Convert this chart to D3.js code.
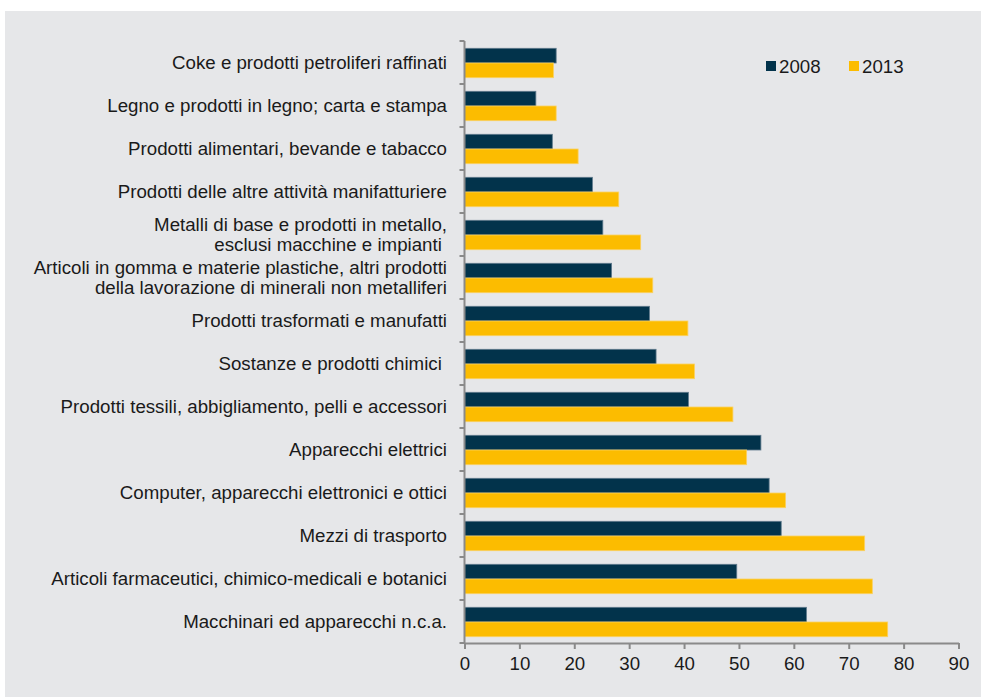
<!DOCTYPE html>
<html>
<head>
<meta charset="utf-8">
<script src="https://cdn.jsdelivr.net/npm/d3@7"></script>
<style>
  html, body { margin: 0; padding: 0; background: #ffffff; }
  svg { display: block; }
  text { font-family: "Liberation Sans", Arial, sans-serif; fill: #1a1a1a; }
</style>
</head>
<body>
<svg id="chart" width="981" height="697"></svg>
<script>
const categories = [
  "Coke e prodotti petroliferi raffinati",
  "Legno e prodotti in legno; carta e stampa",
  "Prodotti alimentari, bevande e tabacco",
  "Prodotti delle altre attività manifatturiere",
  "Metalli di base e prodotti in metallo,\nesclusi macchine e impianti ",
  "Articoli in gomma e materie plastiche, altri prodotti\ndella lavorazione di minerali non metalliferi",
  "Prodotti trasformati e manufatti",
  "Sostanze e prodotti chimici ",
  "Prodotti tessili, abbigliamento, pelli e accessori",
  "Apparecchi elettrici",
  "Computer, apparecchi elettronici e ottici",
  "Mezzi di trasporto",
  "Articoli farmaceutici, chimico-medicali e botanici",
  "Macchinari ed apparecchi n.c.a."
];
const seriesNames = ["2008", "2013"];
const values2008 = [16.7, 13.0, 16.0, 23.3, 25.2, 26.8, 33.7, 34.9, 40.8, 54.0, 55.5, 57.7, 49.6, 62.3];
const values2013 = [16.2, 16.7, 20.7, 28.1, 32.1, 34.3, 40.7, 41.9, 48.9, 51.4, 58.5, 72.9, 74.3, 77.1];
const xTicks = [0, 10, 20, 30, 40, 50, 60, 70, 80, 90];
const colors = { "2008": "#02334b", "2013": "#fcbc00" };
const strokes = { "2008": "#5f7a8c", "2013": "#fbd160" };

const svg = d3.select("#chart");
svg.append("rect").attr("x", 5).attr("y", 11).attr("width", 976).attr("height", 686).attr("fill", "#e6e7e9");

const x = d3.scaleLinear().domain([0, 90]).range([464.5, 958.5]);
const y = d3.scaleBand().domain(categories).range([41, 643]).paddingInner(0).paddingOuter(0);
const ySub = d3.scaleBand().domain(seriesNames).range([7.3, y.bandwidth() - 6.3]);

const data = categories.map((c, i) => ({ cat: c, vals: [
  { s: "2008", v: values2008[i] },
  { s: "2013", v: values2013[i] }
]}));

const g = svg.append("g");
const groups = g.selectAll("g.cat").data(data).join("g")
  .attr("class", "cat")
  .attr("transform", d => `translate(0,${y(d.cat)})`);
groups.selectAll("rect").data(d => d.vals).join("rect")
  .attr("x", x(0))
  .attr("y", d => ySub(d.s))
  .attr("width", d => x(d.v) - x(0))
  .attr("height", ySub.bandwidth())
  .attr("fill", d => colors[d.s])
  .attr("stroke", d => strokes[d.s])
  .attr("stroke-width", 0.8);

// Y axis line and boundary ticks
const axisColor = "#8a8a8a";
svg.append("line").attr("x1", x(0)).attr("x2", x(0)).attr("y1", 41).attr("y2", 643)
  .attr("stroke", axisColor).attr("stroke-width", 2);
const boundaries = categories.map(c => y(c)).concat([y.range()[1]]);
svg.selectAll("line.ytick").data(boundaries).join("line")
  .attr("class", "ytick")
  .attr("x1", x(0) - 5).attr("x2", x(0))
  .attr("y1", d => d).attr("y2", d => d)
  .attr("stroke", axisColor).attr("stroke-width", 2);

// Category labels
const fs = 18.7;
const labels = svg.selectAll("text.cat").data(categories).join("text")
  .attr("class", "cat")
  .attr("text-anchor", "end")
  .attr("font-size", fs)
  .attr("transform", d => `translate(447,${y(d) + y.bandwidth() / 2})`);
labels.each(function(d) {
  const lines = d.split("\n");
  const lh = 19.5;
  const t = d3.select(this);
  lines.forEach((ln, i) => {
    t.append("tspan").attr("x", 0)
      .attr("y", (i - (lines.length - 1) / 2) * lh)
      .attr("dy", "0.35em")
      .attr("xml:space", "preserve")
      .text(ln);
  });
});

// X axis
const xAxis = svg.append("g").attr("transform", "translate(0,643)")
  .call(d3.axisBottom(x).tickValues(xTicks).tickSize(6).tickSizeOuter(0).tickFormat(d3.format("d")));
xAxis.select(".domain").attr("stroke", axisColor).attr("stroke-width", 2);
xAxis.selectAll(".tick line").attr("stroke", axisColor).attr("stroke-width", 2);
xAxis.selectAll(".tick text").attr("font-size", fs).attr("font-family", "Liberation Sans, Arial, sans-serif")
  .attr("fill", "#1a1a1a").attr("y", 14).attr("dy", "0.71em");

// Legend
const legend = svg.append("g").attr("transform", "translate(766,61)");
const legendX = { "2008": 0, "2013": 83 };
seriesNames.forEach(s => {
  legend.append("rect").attr("x", legendX[s]).attr("y", 0).attr("width", 10).attr("height", 10).attr("fill", colors[s]);
  legend.append("text").attr("x", legendX[s] + 13).attr("y", 5).attr("dy", "0.35em")
    .attr("font-size", fs).text(s);
});
</script>
</body>
</html>
